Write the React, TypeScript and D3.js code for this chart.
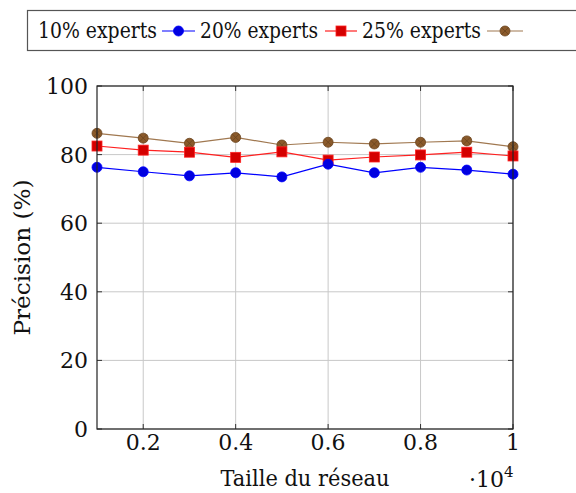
import React from "react";
import * as d3 from "d3";

const xValues = [0.1, 0.2, 0.3, 0.4, 0.5, 0.6, 0.7, 0.8, 0.9, 1.0];
const blue20 = [76.3, 75.0, 73.8, 74.7, 73.5, 77.2, 74.7, 76.3, 75.5, 74.3];
const red25 = [82.5, 81.3, 80.7, 79.2, 80.8, 78.4, 79.3, 79.9, 80.7, 79.6];
const brown = [86.2, 84.8, 83.3, 85.0, 82.8, 83.6, 83.1, 83.6, 84.0, 82.3];
const xTicks = [0.2, 0.4, 0.6, 0.8, 1];
const yTicks = [0, 20, 40, 60, 80, 100];
const legendLabels = ["10% experts", "20% experts", "25% experts"];

const W = 576, H = 493;
const L = 97, R = 513, T = 86, B = 429;
const FONT = "'DejaVu Serif', 'Liberation Serif', serif";

export default function App() {
  const x = d3.scaleLinear().domain([0.1, 1]).range([L, R]);
  const y = d3.scaleLinear().domain([0, 100]).range([B, T]);
  const line = (vals: number[]) =>
    d3.line<number>().x((_, i) => x(xValues[i])).y((v) => y(v))(vals) as string;

  const blueC = "#0000ff", blueF = "#0000e0";
  const redC = "#ff2020", redF = "#d40000";
  const brC = "#a07850", brF = "#8a5a2b", brS = "#6b4520";

  const crossMarker = (cx: number, cy: number, key: string | number) => {
    const r = 5;
    const d = r * 0.7;
    return (
      <g key={key}>
        <circle cx={cx} cy={cy} r={r} fill={brF} stroke={brS} strokeWidth={0.8} />
        <path d={`M${cx - d},${cy - d}L${cx + d},${cy + d}M${cx - d},${cy + d}L${cx + d},${cy - d}`} stroke={brS} strokeWidth={0.8} />
      </g>
    );
  };

  const ts = { fontFamily: FONT, fill: "#111" } as React.CSSProperties;

  return (
    <svg width={W} height={H} style={{ position: "absolute", left: 0, top: 0, fontFamily: FONT }}>
      <rect x={0} y={0} width={W} height={H} fill="#fff" />
      {xTicks.map((t) => (
        <line key={"gx" + t} x1={x(t)} x2={x(t)} y1={T} y2={B} stroke="#c8c8c8" strokeWidth={1} />
      ))}
      {yTicks.map((t) => (
        <line key={"gy" + t} x1={L} x2={R} y1={y(t)} y2={y(t)} stroke="#c8c8c8" strokeWidth={1} />
      ))}
      {xTicks.map((t) => (
        <g key={"tx" + t}>
          <line x1={x(t)} x2={x(t)} y1={B} y2={B - 5} stroke="#333" />
          <line x1={x(t)} x2={x(t)} y1={T} y2={T + 5} stroke="#333" />
          <text x={x(t)} y={450} fontSize={22} textAnchor="middle" style={ts}>{t === 1 ? "1" : t.toFixed(1)}</text>
        </g>
      ))}
      {yTicks.map((t) => (
        <g key={"ty" + t}>
          <line x1={L} x2={L + 5} y1={y(t)} y2={y(t)} stroke="#333" />
          <line x1={R} x2={R - 5} y1={y(t)} y2={y(t)} stroke="#333" />
          <text x={88} y={y(t) + 8} fontSize={22} textAnchor="end" style={ts}>{t}</text>
        </g>
      ))}
      <path d={line(brown)} fill="none" stroke={brC} strokeWidth={1.2} />
      <path d={line(red25)} fill="none" stroke={redC} strokeWidth={1.2} />
      <path d={line(blue20)} fill="none" stroke={blueC} strokeWidth={1.2} />
      {brown.map((v, i) => crossMarker(x(xValues[i]), y(v), "b" + i))}
      {red25.map((v, i) => (
        <rect key={"r" + i} x={x(xValues[i]) - 5} y={y(v) - 5} width={10} height={10} fill={redF} stroke={redC} strokeWidth={0.8} />
      ))}
      {blue20.map((v, i) => (
        <circle key={"c" + i} cx={x(xValues[i])} cy={y(v)} r={5} fill={blueF} stroke={blueC} strokeWidth={0.8} />
      ))}
      <rect x={L} y={T} width={R - L} height={B - T} fill="none" stroke="#222" strokeWidth={1.2} />
      <text x={305} y={486} fontSize={22} textAnchor="middle" style={ts} textLength={169} lengthAdjust="spacingAndGlyphs">Taille du réseau</text>
      <text x={469} y={487} fontSize={22} style={ts}>·10<tspan dy={-10} fontSize={15}>4</tspan></text>
      <text transform={`translate(30,${(T + B) / 2}) rotate(-90)`} fontSize={22} textAnchor="middle" style={ts} textLength={156} lengthAdjust="spacingAndGlyphs">Précision (%)</text>
      <rect x={27.5} y={10.5} width={600} height={40} fill="#fff" stroke="#555" strokeWidth={1.2} />
      <text x={38} y={38} fontSize={22} style={ts} textLength={119} lengthAdjust="spacingAndGlyphs">{legendLabels[0]}</text>
      <line x1={162} x2={195} y1={31} y2={31} stroke={blueC} strokeWidth={1.2} />
      <circle cx={178.5} cy={31} r={5} fill={blueF} stroke={blueC} strokeWidth={0.8} />
      <text x={200} y={38} fontSize={22} style={ts} textLength={118} lengthAdjust="spacingAndGlyphs">{legendLabels[1]}</text>
      <line x1={325} x2={357} y1={31} y2={31} stroke={redC} strokeWidth={1.2} />
      <rect x={336} y={26} width={10} height={10} fill={redF} stroke={redC} strokeWidth={0.8} />
      <text x={362} y={38} fontSize={22} style={ts} textLength={119} lengthAdjust="spacingAndGlyphs">{legendLabels[2]}</text>
      <line x1={487} x2={523} y1={31} y2={31} stroke={brC} strokeWidth={1.2} />
      {crossMarker(505, 31, "lg")}
    </svg>
  );
}
